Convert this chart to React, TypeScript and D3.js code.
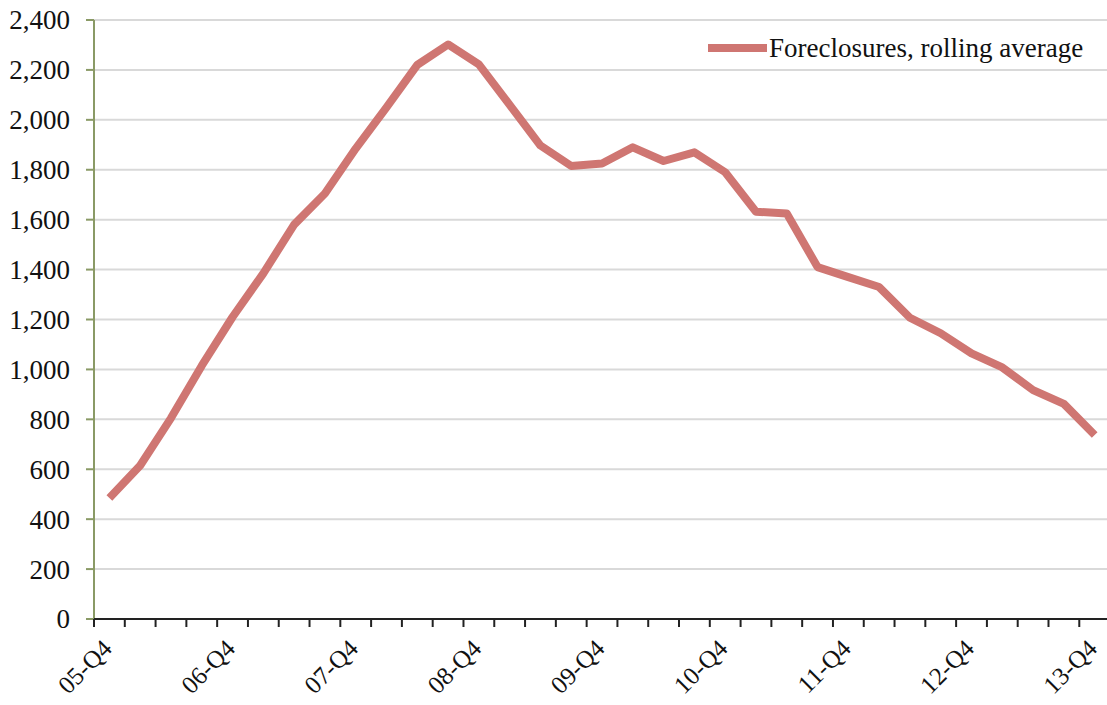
import React, { useEffect, useRef } from "react"
import * as d3 from "d3"

// Quarters from 05-Q4 to 13-Q4
const quarters = [
	"05-Q4", "06-Q1", "06-Q2", "06-Q3", "06-Q4", "07-Q1", "07-Q2", "07-Q3", "07-Q4",
	"08-Q1", "08-Q2", "08-Q3", "08-Q4", "09-Q1", "09-Q2", "09-Q3", "09-Q4",
	"10-Q1", "10-Q2", "10-Q3", "10-Q4", "11-Q1", "11-Q2", "11-Q3", "11-Q4",
	"12-Q1", "12-Q2", "12-Q3", "12-Q4", "13-Q1", "13-Q2", "13-Q3", "13-Q4",
]

const foreclosures = [
	485, 615, 805, 1015, 1210, 1385, 1580, 1705, 1885,
	2050, 2220, 2302, 2222, 2060, 1897, 1815, 1825,
	1890, 1835, 1870, 1790, 1632, 1625, 1410, 1370,
	1330, 1207, 1145, 1064, 1008, 917, 862, 737,
]

const shownLabels = ["05-Q4", "06-Q4", "07-Q4", "08-Q4", "09-Q4", "10-Q4", "11-Q4", "12-Q4", "13-Q4"]
const yTicks = [0, 200, 400, 600, 800, 1000, 1200, 1400, 1600, 1800, 2000, 2200, 2400]

const seriesName = "Foreclosures, rolling average"

const WIDTH = 1107
const HEIGHT = 705
const LINE_COLOR = "#cf7672"
const FONT = "'Liberation Serif', 'Times New Roman', serif"

const App = () => {
	const ref = useRef<SVGSVGElement>(null)

	useEffect(() => {
		const svg = d3.select(ref.current)
		svg.selectAll("*").remove()

		const left = 94
		const top = 20
		const bottom = 619
		const step = 30.79

		const x = d3
			.scaleBand<string>()
			.domain(quarters)
			.range([left, left + step * quarters.length])
			.padding(0)

		const y = d3.scaleLinear().domain([0, 2400]).range([bottom, top])

		// Horizontal gridlines
		svg
			.append("g")
			.selectAll("line")
			.data(yTicks.filter(d => d > 0))
			.join("line")
			.attr("x1", left)
			.attr("x2", WIDTH)
			.attr("y1", d => y(d))
			.attr("y2", d => y(d))
			.attr("stroke", "#d9d9d9")
			.attr("stroke-width", 2)

		// Y axis (olive line with ticks on the left)
		const yAxis = svg.append("g")
		yAxis
			.append("line")
			.attr("x1", left)
			.attr("x2", left)
			.attr("y1", top)
			.attr("y2", bottom)
			.attr("stroke", "#8a9a66")
			.attr("stroke-width", 2)
		yAxis
			.selectAll("line.tick")
			.data(yTicks)
			.join("line")
			.attr("class", "tick")
			.attr("x1", left - 8)
			.attr("x2", left)
			.attr("y1", d => y(d))
			.attr("y2", d => y(d))
			.attr("stroke", "#8a9a66")
			.attr("stroke-width", 2)
		yAxis
			.selectAll("text")
			.data(yTicks)
			.join("text")
			.attr("x", 70)
			.attr("y", d => y(d))
			.attr("dy", "0.35em")
			.attr("text-anchor", "end")
			.style("font-family", FONT)
			.style("font-size", "27px")
			.attr("fill", "#111")
			.text(d => d3.format(",")(d))

		// X axis
		const xAxis = svg.append("g")
		xAxis
			.append("line")
			.attr("x1", left)
			.attr("x2", WIDTH)
			.attr("y1", bottom)
			.attr("y2", bottom)
			.attr("stroke", "#222")
			.attr("stroke-width", 2)
		xAxis
			.selectAll("line.tick")
			.data(quarters)
			.join("line")
			.attr("class", "tick")
			.attr("x1", d => x(d)!)
			.attr("x2", d => x(d)!)
			.attr("y1", bottom)
			.attr("y2", bottom + 8)
			.attr("stroke", "#222")
			.attr("stroke-width", 2)
		xAxis
			.selectAll("text")
			.data(shownLabels)
			.join("text")
			.attr(
				"transform",
				d => `translate(${x(d)! + x.bandwidth() / 2 + 4},${bottom + 31}) rotate(-45)`,
			)
			.attr("text-anchor", "end")
			.style("font-family", FONT)
			.style("font-size", "25px")
			.attr("fill", "#111")
			.text(d => d)

		// The series line
		const line = d3
			.line<number>()
			.x((_, i) => x(quarters[i])! + x.bandwidth() / 2)
			.y(d => y(d))

		svg
			.append("path")
			.datum(foreclosures)
			.attr("d", line)
			.attr("fill", "none")
			.attr("stroke", LINE_COLOR)
			.attr("stroke-width", 8)
			.attr("stroke-linejoin", "round")

		// Legend
		const legend = svg.append("g")
		legend
			.append("line")
			.attr("x1", 708)
			.attr("x2", 767)
			.attr("y1", 48)
			.attr("y2", 48)
			.attr("stroke", LINE_COLOR)
			.attr("stroke-width", 8)
		legend
			.append("text")
			.attr("x", 769)
			.attr("y", 48)
			.attr("dy", "0.35em")
			.style("font-family", FONT)
			.style("font-size", "27px")
			.attr("fill", "#111")
			.text(seriesName)
	}, [])

	return (
		<svg
			ref={ref}
			width={WIDTH}
			height={HEIGHT}
			style={{ position: "absolute", left: 0, top: 0, background: "#fff" }}
		></svg>
	)
}

export default App
